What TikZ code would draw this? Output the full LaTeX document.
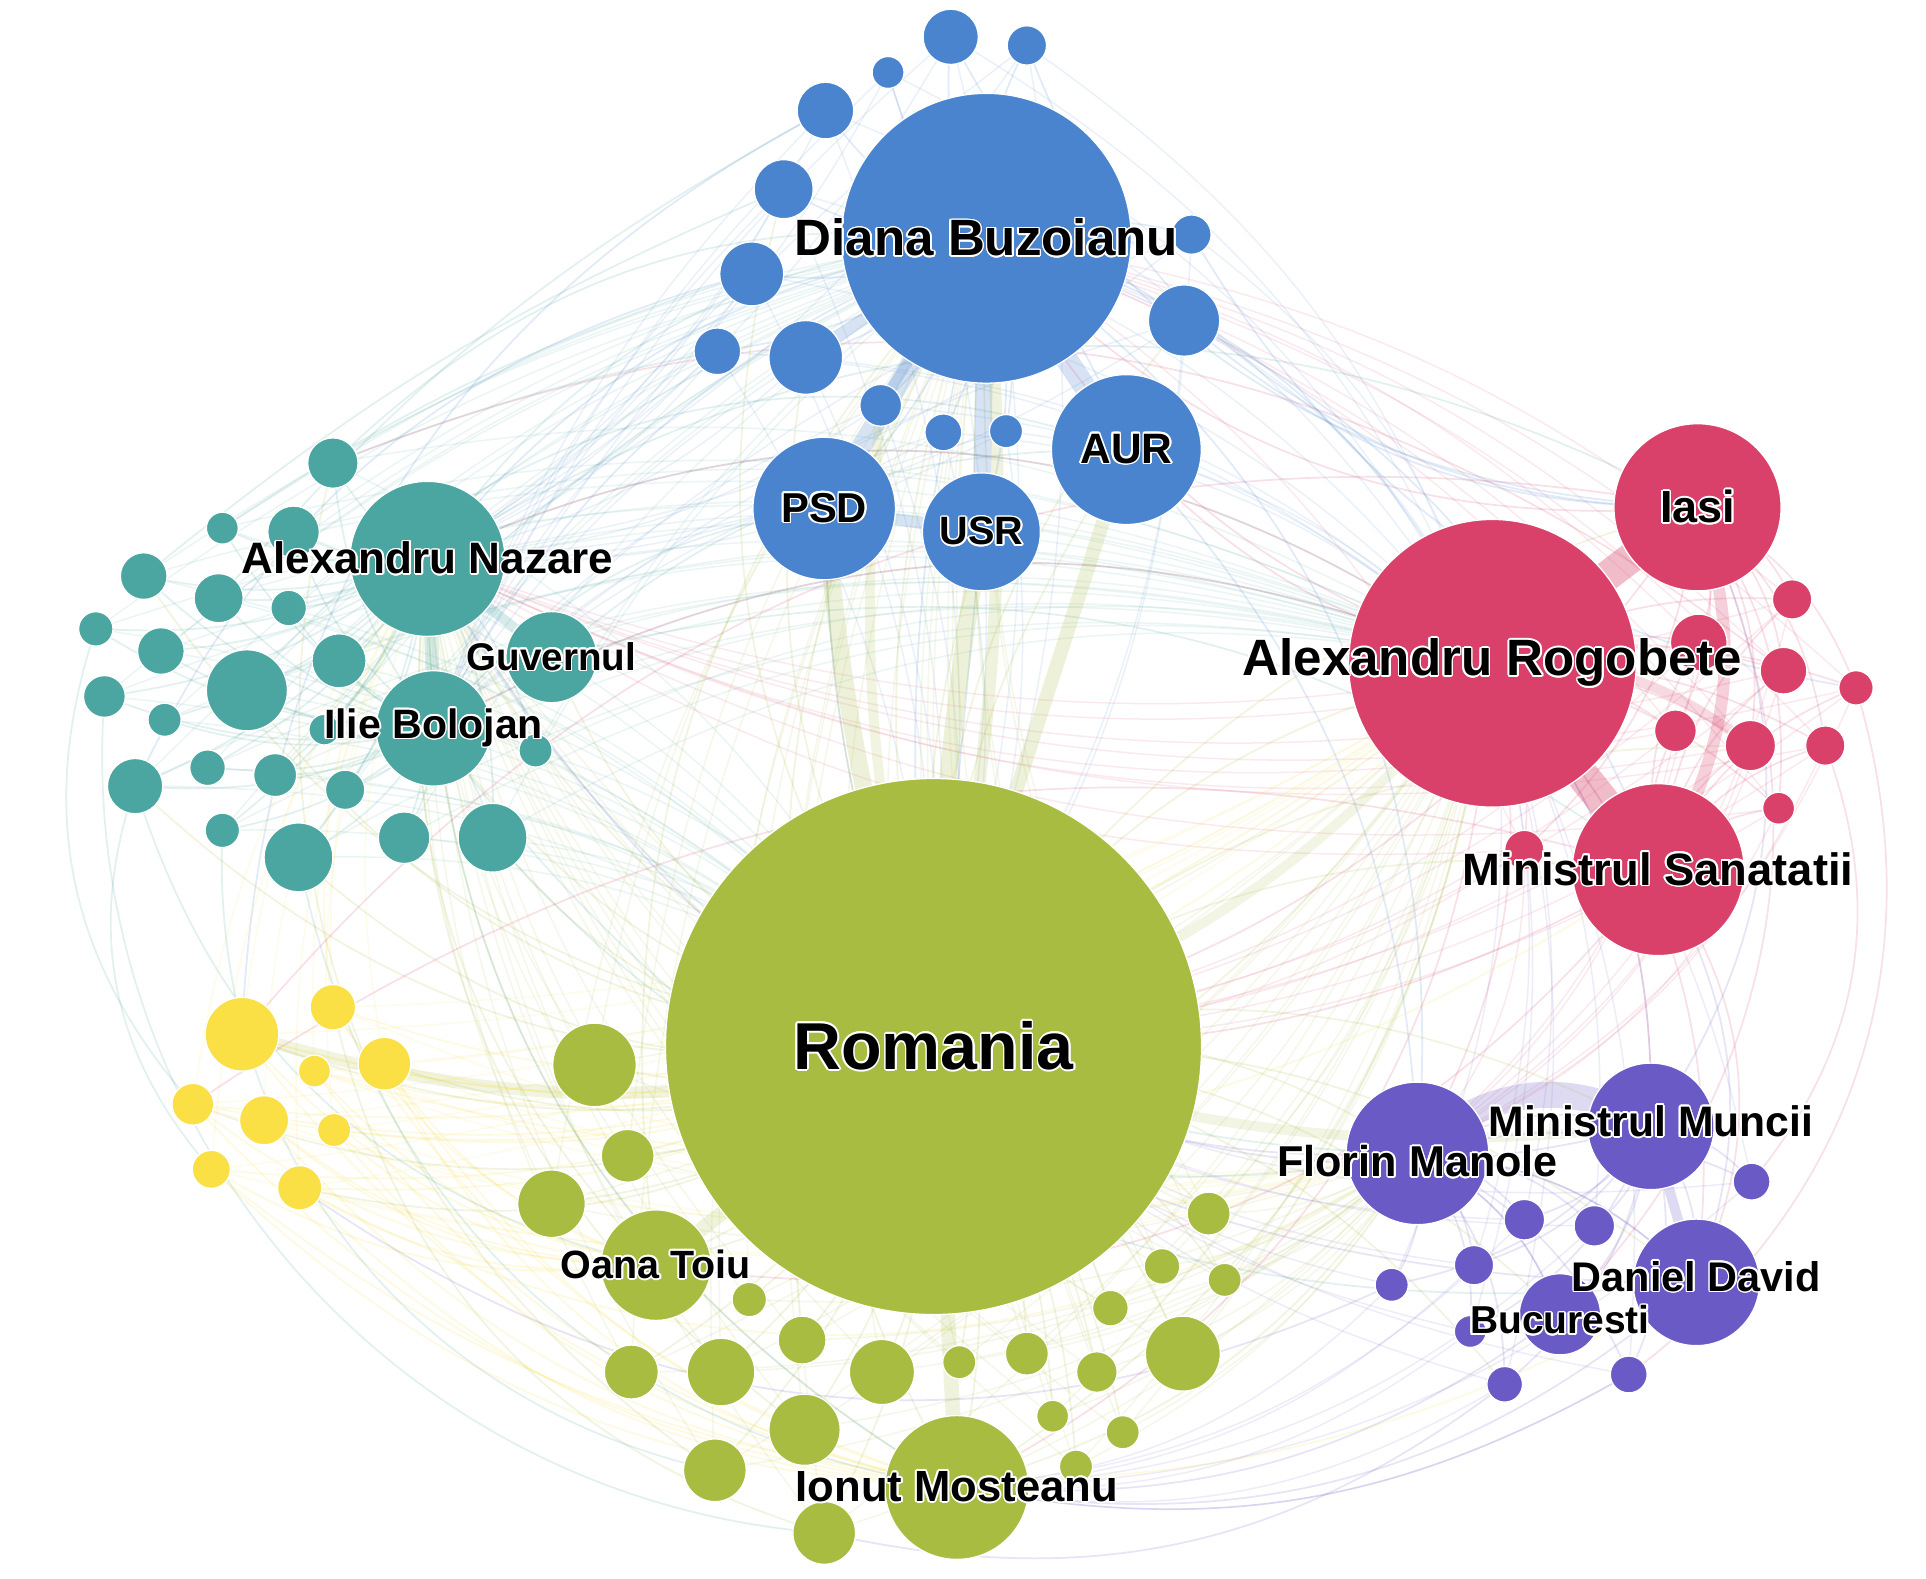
\documentclass[tikz,border=0pt]{standalone}
\usepackage{fontspec}
\setmainfont{Liberation Sans}
\usepackage[copies]{contour}
\contourlength{0.38pt}
\usetikzlibrary{backgrounds}
\definecolor{cblue}{HTML}{4A84CE}
\definecolor{cteal}{HTML}{4BA5A0}
\definecolor{cred}{HTML}{D9416A}
\definecolor{cyel}{HTML}{FADF45}
\definecolor{cgreen}{HTML}{A8BC41}
\definecolor{cpurp}{HTML}{6A5AC6}
\newcommand{\lblsize}[1]{\fontsize{#1}{#1}\selectfont\bfseries}
\def\Bs{b1,b2,b3,b4,b5,b6,b7,b8,b9,b10,b11,b12,b13}
\def\Ts{t1,t2,t3,t4,t5,t6,t7,t8,t9,t10,t11,t12,t13,t14,t15,t16,t17,t18,t19,t20,t21,t22}
\def\Rs{r1,r2,r3,r4,r5,r6,r7,r8,r9}
\def\Ys{y1,y2,y3,y4,y5,y6,y7,y8,y9}
\def\Gs{g1,g2,g3,g4,g5,g6,g7,g8,g9,g10,g11,g12,g13,g14,g15,g16,g17,g18,g19,g20,g21,g22}
\def\Ps{p1,p2,p3,p4,p5,p6,p7,p8}
\tikzset{
  dot/.style={circle, inner sep=0pt, draw=white, line width=0.3pt, fill=#1},
  lab/.style={inner sep=0pt, text=black},
  ed/.style={line width=0.4pt, draw=#1, draw opacity=0.16},
  haze/.style={line width=0.35pt, draw=#1, draw opacity=0.11},
  band/.style={draw=#1, draw opacity=0.22, line cap=round},
}
\begin{document}
\begin{tikzpicture}[x=0.01cm, y=-0.01cm]
\path[use as bounding box] (0,0) rectangle (1568,1285);
% ---------- blue ----------
\foreach \n/\x/\y/\s in {b1/774/30/45, b2/836/37/32, b3/723/59/26, b4/672/90/46,
  b5/638/154/48, b6/612/223/52, b7/584/286/38, b8/656/291/60, b9/717/330/34,
  b10/768/352/30, b11/819/351/27, b12/964/261/58, b13/970/191/32}
  \node[dot=cblue, minimum size={\s*0.28453pt}] (\n) at (\x,\y) {};
\node[dot=cblue, minimum size=67.1pt] (diana) at (803,194) {};
\node[dot=cblue, minimum size=34.7pt] (aur) at (917,366) {};
\node[dot=cblue, minimum size=33.0pt] (psd) at (671,414) {};
\node[dot=cblue, minimum size=27.3pt] (usr) at (799,433) {};
% ---------- teal ----------
\foreach \n/\x/\y/\s in {t1/271/377/41, t2/181/430/26, t3/239/433/42, t4/117/469/38,
  t5/178/487/40, t6/235/495/29, t7/78/512/28, t8/131/530/38, t9/201/562/66,
  t10/276/538/44, t11/85/567/34, t12/134/586/27, t13/264/594/25, t14/436/611/27,
  t15/169/625/29, t16/224/631/35, t17/281/643/32, t18/110/640/45, t19/181/676/28,
  t20/243/698/56, t21/329/682/42, t22/401/682/56}
  \node[dot=cteal, minimum size={\s*0.28453pt}] (\n) at (\x,\y) {};
\node[dot=cteal, minimum size=35.9pt] (nazare) at (348,455) {};
\node[dot=cteal, minimum size=21.1pt] (guvernul) at (449,535) {};
\node[dot=cteal, minimum size=26.7pt] (bolojan) at (353,593) {};
% ---------- red ----------
\foreach \n/\x/\y/\s in {r1/1459/488/32, r2/1383/523/46, r3/1452/546/38, r4/1511/560/28,
  r5/1364/595/34, r6/1425/607/41, r7/1486/607/32, r8/1448/658/26, r9/1241/692/32}
  \node[dot=cred, minimum size={\s*0.28453pt}] (\n) at (\x,\y) {};
\node[dot=cred, minimum size=66.6pt] (rogobete) at (1215,540) {};
\node[dot=cred, minimum size=38.7pt] (iasi) at (1382,413) {};
\node[dot=cred, minimum size=39.8pt] (sanatatii) at (1350,708) {};
% ---------- yellow ----------
\foreach \n/\x/\y/\s in {y1/197/842/60, y2/271/820/37, y3/313/866/43, y4/256/872/26,
  y5/157/899/34, y6/215/912/40, y7/272/920/27, y8/172/952/31, y9/244/967/36}
  \node[dot=cyel, minimum size={\s*0.28453pt}] (\n) at (\x,\y) {};
% ---------- green ----------
\foreach \n/\x/\y/\s in {g1/484/867/68, g2/511/941/43, g3/449/980/55, g4/610/1058/28,
  g5/653/1091/39, g6/514/1117/44, g7/587/1117/55, g8/718/1117/53, g9/781/1109/27,
  g10/836/1102/35, g11/893/1117/33, g12/963/1102/61, g13/904/1065/29, g14/946/1031/29,
  g15/997/1042/27, g16/984/988/35, g17/655/1164/58, g18/857/1153/26, g19/914/1166/27,
  g20/582/1197/51, g21/671/1248/51, g22/876/1194/27}
  \node[dot=cgreen, minimum size={\s*0.28453pt}] (\n) at (\x,\y) {};
\node[dot=cgreen, minimum size=124.1pt] (romania) at (760,852) {};
\node[dot=cgreen, minimum size=25.6pt] (toiu) at (534,1030) {};
\node[dot=cgreen, minimum size=33.3pt] (mosteanu) at (779,1211) {};
% ---------- purple ----------
\foreach \n/\x/\y/\s in {p1/1426/962/30, p2/1241/993/33, p3/1298/998/33, p4/1200/1030/32,
  p5/1133/1046/27, p6/1197/1084/26, p7/1225/1127/29, p8/1326/1119/30}
  \node[dot=cpurp, minimum size={\s*0.28453pt}] (\n) at (\x,\y) {};
\node[dot=cpurp, minimum size=33.0pt] (manole) at (1154,939) {};
\node[dot=cpurp, minimum size=29.3pt] (muncii) at (1344,917) {};
\node[dot=cpurp, minimum size=29.3pt] (david) at (1381,1044) {};
\node[dot=cpurp, minimum size=18.8pt] (bucuresti) at (1270,1070) {};
% ---------- connectors (behind) ----------
\begin{scope}[on background layer]
\fill[white] (0,0) rectangle (1568,1285);
% faint haze of many edges
\foreach \a in \Ts {
  \draw[haze=cteal] (\a.center) to[bend left=18] (romania.center);
  \draw[haze=cteal] (\a.center) to[bend left=12] (diana.center);
  \draw[haze=cteal] (\a.center) to[bend left=20] (rogobete.center);}
\foreach \a in \Bs {
  \draw[haze=cblue] (\a.center) to[bend left=15] (nazare.center);
  \draw[haze=cblue] (\a.center) to[bend left=15] (romania.center);
  \draw[haze=cblue] (\a.center) to[bend left=18] (rogobete.center);
  \draw[haze=cblue] (\a.center) to[bend right=12] (bolojan.center);}
\foreach \a in \Rs {
  \draw[haze=cred] (\a.center) to[bend left=15] (romania.center);
  \draw[haze=cred] (\a.center) to[bend right=15] (diana.center);
  \draw[haze=cred] (\a.center) to[bend left=20] (manole.center);
  \draw[haze=cred] (\a.center) to[bend left=18] (nazare.center);}
\foreach \a in \Ps {
  \draw[haze=cpurp] (\a.center) to[bend left=15] (romania.center);
  \draw[haze=cpurp] (\a.center) to[bend right=15] (rogobete.center);
  \draw[haze=cpurp] (\a.center) to[bend left=20] (mosteanu.center);}
\foreach \a in \Gs {
  \draw[haze=cgreen] (\a.center) to[bend left=15] (diana.center);
  \draw[haze=cgreen] (\a.center) to[bend right=15] (rogobete.center);
  \draw[haze=cgreen] (\a.center) to[bend left=15] (nazare.center);
  \draw[haze=cgreen] (\a.center) to[bend right=15] (manole.center);}
\foreach \a in \Ys {
  \draw[haze=cyel] (\a.center) to[bend left=15] (nazare.center);
  \draw[haze=cyel] (\a.center) to[bend right=15] (rogobete.center);
  \draw[haze=cyel] (\a.center) to[bend right=15] (manole.center);}
% thick bundles
\draw[band=cred, line width=7pt, draw opacity=0.35] (rogobete.center) -- (iasi.center);
\draw[band=cred, line width=7.5pt, draw opacity=0.35] (rogobete.center) -- (sanatatii.center);
\draw[band=cred, line width=2.8pt, draw opacity=0.25] (iasi.center) to[bend left=25] (sanatatii.center);
\draw[band=cred, line width=2.3pt, draw opacity=0.2] (rogobete.center) to[bend left=20] (r6.center);
\draw[band=cpurp, line width=6pt, draw opacity=0.22] (manole.center) to[bend left=40] (muncii.center);
\draw[band=cpurp, line width=2.3pt] (muncii.center) -- (david.center);
\draw[band=cblue, line width=5.1pt] (diana.center) -- (aur.center);
\draw[band=cblue, line width=4.6pt] (diana.center) -- (psd.center);
\draw[band=cblue, line width=4pt] (diana.center) -- (usr.center);
\draw[band=cblue, line width=2.8pt] (psd.center) -- (usr.center);
\draw[band=cblue, line width=2.8pt] (diana.center) -- (b8.center);
\draw[band=cblue, line width=2.3pt] (diana.center) -- (b9.center);
\draw[band=cgreen, line width=4pt, draw opacity=0.2] (romania.center) to[bend left=6] (psd.center);
\draw[band=cgreen, line width=4pt, draw opacity=0.2] (romania.center) to[bend left=4] (usr.center);
\draw[band=cgreen, line width=3.2pt, draw opacity=0.2] (romania.center) -- (aur.center);
\draw[band=cgreen, line width=2.8pt, draw opacity=0.18] (romania.center) to[bend right=8] (diana.center);
\draw[band=cgreen, line width=2.3pt, draw opacity=0.16] (romania.center) to[bend left=10] (b9.center);
\draw[band=cteal, line width=2.8pt] (nazare.center) -- (bolojan.center);
\draw[band=cteal, line width=2.3pt] (nazare.center) -- (guvernul.center);
\draw[band=cgreen, line width=3.4pt, draw opacity=0.18] (romania.center) -- (toiu.center);
\draw[band=cgreen, line width=3.4pt, draw opacity=0.18] (romania.center) -- (mosteanu.center);
\draw[band=cgreen, line width=2.8pt, draw opacity=0.16] (y1.center) to[bend right=15] (romania.center);
\draw[band=cgreen, line width=2.3pt, draw opacity=0.14] (romania.center) to[bend right=15] (rogobete.center);
\draw[band=cgreen, line width=2.3pt, draw opacity=0.14] (romania.center) to[bend right=12] (muncii.center);
% in-cluster thin edges
\foreach \n in {b1,b2,b3,b4,b5,b6,b7,b8,b9,b10,b11,b12,b13,psd,usr,aur}
  \draw[ed=cblue] (diana.center) to[bend left=15] (\n.center);
\foreach \n in \Ts
  {\draw[ed=cteal] (nazare.center) to[bend left=15] (\n.center);
   \draw[ed=cteal] (bolojan.center) to[bend left=15] (\n.center);}
\foreach \n in \Rs
  {\draw[ed=cred] (rogobete.center) to[bend left=15] (\n.center);
   \draw[ed=cred] (iasi.center) to[bend left=20] (\n.center);
   \draw[ed=cred] (sanatatii.center) to[bend left=20] (\n.center);}
\foreach \n in \Ys
  {\draw[ed=cyel] (\n.center) to[bend right=15] (romania.center);
   \draw[ed=cyel] (\n.center) to[bend right=20] (mosteanu.center);
   \draw[ed=cyel] (\n.center) to[bend right=18] (toiu.center);}
\foreach \n in {g1,g2,g3,g4,g5,g6,g7,g8,g9,g10,g11,g12,g13,g14,g15,g16,g17,g18,g19,g20,g21,g22,toiu,mosteanu}
  \draw[ed=cgreen] (romania.center) to[bend left=15] (\n.center);
\foreach \n in {p1,p2,p3,p4,p5,p6,p7,p8,muncii,david,bucuresti}
  {\draw[ed=cpurp] (manole.center) to[bend left=20] (\n.center);
   \draw[ed=cpurp] (muncii.center) to[bend left=20] (\n.center);}
% cross-cluster edges
\foreach \a/\b/\bd/\c in {
  romania/diana/15/cgreen, romania/aur/15/cgreen, romania/psd/10/cgreen, romania/usr/10/cgreen,
  romania/b8/20/cgreen, romania/b5/25/cgreen, romania/b12/20/cgreen, romania/nazare/20/cgreen,
  romania/guvernul/20/cgreen, romania/bolojan/20/cgreen, romania/t9/25/cgreen, romania/t18/25/cgreen,
  romania/t20/25/cgreen, romania/t22/25/cgreen, romania/t4/25/cgreen, romania/y1/20/cgreen,
  romania/y3/20/cgreen, romania/y5/25/cgreen, romania/y9/25/cgreen, romania/rogobete/20/cgreen,
  romania/iasi/20/cgreen, romania/sanatatii/20/cgreen, romania/r6/20/cgreen, romania/manole/20/cgreen,
  romania/muncii/20/cgreen, romania/david/20/cgreen, romania/bucuresti/20/cgreen, romania/p7/20/cgreen,
  toiu/diana/25/cgreen, toiu/nazare/25/cgreen, toiu/rogobete/-20/cgreen, mosteanu/diana/30/cgreen,
  mosteanu/nazare/30/cgreen, mosteanu/rogobete/-25/cgreen, mosteanu/manole/-20/cgreen,
  g20/t1/35/cgreen, g21/y2/30/cgreen, g17/nazare/30/cgreen,
  nazare/diana/25/cteal, nazare/rogobete/30/cteal, nazare/iasi/30/cteal, nazare/manole/-30/cteal,
  nazare/mosteanu/-30/cteal, bolojan/rogobete/25/cteal, bolojan/david/-30/cteal, bolojan/psd/20/cteal,
  guvernul/aur/20/cteal, guvernul/sanatatii/25/cteal, t1/diana/25/cteal, t4/b5/8/cteal, t2/b6/8/cteal,
  t1/b7/5/cteal, t5/b4/10/cteal,
  t9/aur/35/cteal, t18/toiu/-30/cteal, t20/mosteanu/-35/cteal, t22/manole/-30/cteal,
  t11/g21/-45/cteal, t19/g20/-40/cteal, t7/y5/-30/cteal, t18/y8/-30/cteal,
  y1/romania/-15/cyel, y3/mosteanu/-25/cyel, y6/toiu/-20/cyel, y9/manole/-30/cyel,
  y5/rogobete/-25/cyel, y2/nazare/20/cyel, y8/david/-35/cyel, y4/sanatatii/-25/cyel,
  rogobete/diana/20/cred, rogobete/aur/15/cred, rogobete/nazare/-30/cred, rogobete/bolojan/-25/cred,
  rogobete/manole/20/cred, rogobete/muncii/20/cred, rogobete/david/25/cred, rogobete/mosteanu/30/cred,
  iasi/diana/25/cred, iasi/romania/20/cred, iasi/bucuresti/35/cred, sanatatii/romania/15/cred,
  sanatatii/david/30/cred, sanatatii/toiu/30/cred, r4/p8/35/cred, r7/p1/30/cred,
  r3/t1/-30/cred, iasi/y1/-30/cred, sanatatii/y5/-25/cred,
  manole/romania/15/cpurp, manole/david/20/cpurp, manole/bucuresti/20/cpurp, muncii/romania/20/cpurp,
  muncii/rogobete/-20/cpurp, david/mosteanu/25/cpurp, bucuresti/mosteanu/20/cpurp, david/sanatatii/-25/cpurp,
  p7/g21/25/cpurp, p8/mosteanu/20/cpurp, p5/y9/30/cpurp, muncii/iasi/-30/cpurp, david/nazare/30/cpurp,
  diana/nazare/-20/cblue, diana/bolojan/-20/cblue, diana/rogobete/25/cblue, diana/sanatatii/25/cblue,
  diana/manole/30/cblue, diana/romania/-10/cblue, psd/romania/-10/cblue, aur/manole/20/cblue,
  usr/romania/0/cblue, b4/y1/-30/cblue, b6/t18/-25/cblue, b12/iasi/-20/cblue, b13/r4/-25/cblue,
  b2/iasi/-35/cblue, b1/iasi/-30/cblue}
  \draw[ed=\c] (\a.center) to[bend left=\bd] (\b.center);
\end{scope}
% ---------- labels ----------
\node[lab, font=\lblsize{15.36}] (romania-l) at (romania) {\contour{white}{Romania}};
\node[lab, font=\lblsize{11.83}] (diana-l) at (diana) {\contour{white}{Diana Buzoianu}};
\node[lab, font=\lblsize{11.83}] (rogobete-l) at (rogobete) {\contour{white}{Alexandru Rogobete}};
\node[lab, font=\lblsize{9.84}] (aur-l) at (aur) {\contour{white}{AUR}};
\node[lab, font=\lblsize{9.67}] (psd-l) at (psd) {\contour{white}{PSD}};
\node[lab, font=\lblsize{9.16}] (usr-l) at (usr) {\contour{white}{USR}};
\node[lab, font=\lblsize{10.19}] (nazare-l) at (nazare) {\contour{white}{Alexandru Nazare}};
\node[lab, font=\lblsize{8.93}] (guvernul-l) at (guvernul) {\contour{white}{Guvernul}};
\node[lab, font=\lblsize{9.50}] (bolojan-l) at (bolojan) {\contour{white}{Ilie Bolojan}};
\node[lab, font=\lblsize{10.41}] (iasi-l) at (iasi) {\contour{white}{Iasi}};
\node[lab, font=\lblsize{10.50}] (sanatatii-l) at (sanatatii) {\contour{white}{Ministrul Sanatatii}};
\node[lab, font=\lblsize{9.99}] (manole-l) at ([yshift=-2pt]manole.center) {\contour{white}{Florin Manole}};
\node[lab, font=\lblsize{9.87}] (muncii-l) at ([yshift=1pt]muncii.center) {\contour{white}{Ministrul Muncii}};
\node[lab, font=\lblsize{9.59}] (david-l) at ([yshift=1.2pt]david.center) {\contour{white}{Daniel David}};
\node[lab, font=\lblsize{9.02}] (bucuresti-l) at ([yshift=-1.5pt]bucuresti.center) {\contour{white}{Bucuresti}};
\node[lab, font=\lblsize{9.13}] (toiu-l) at (toiu) {\contour{white}{Oana Toiu}};
\node[lab, font=\lblsize{10.10}] (mosteanu-l) at (mosteanu) {\contour{white}{Ionut Mosteanu}};
\end{tikzpicture}
\end{document}
